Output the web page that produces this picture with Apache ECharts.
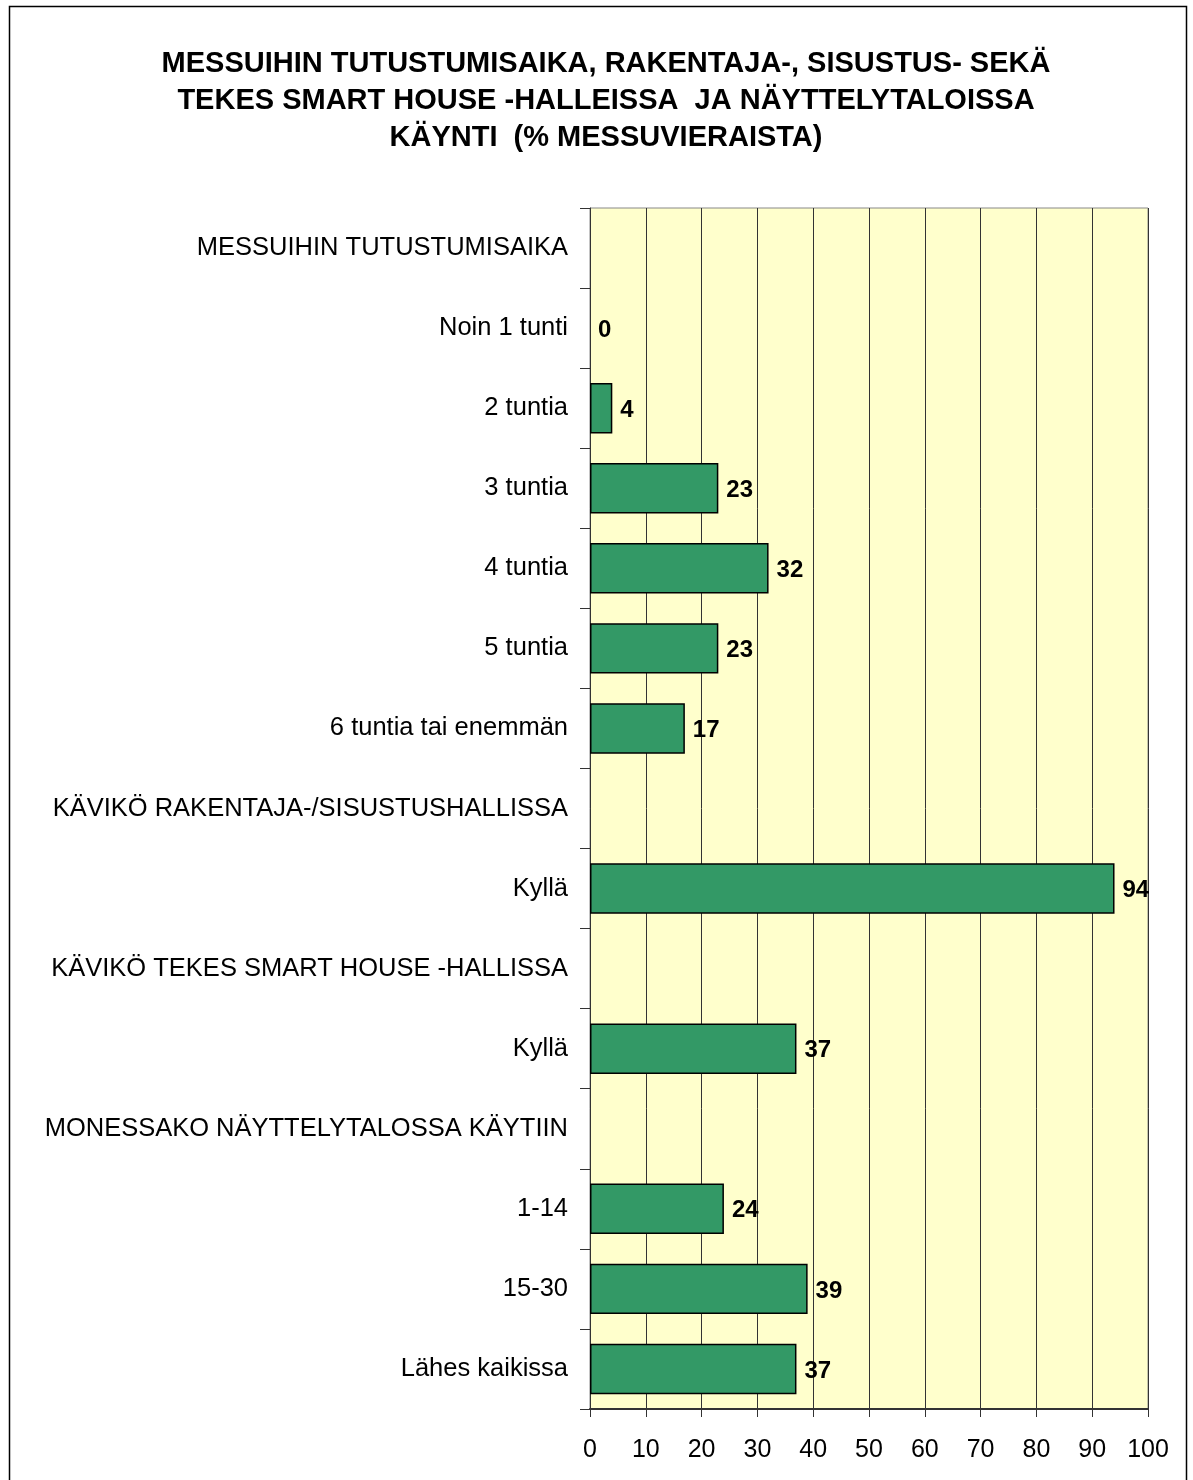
<!DOCTYPE html>
<html><head><meta charset="utf-8">
<script src="https://cdn.jsdelivr.net/npm/echarts@6/dist/echarts.min.js"></script>
<style>html,body{margin:0;padding:0;background:#fff}#c{width:1193px;height:1480px}</style>
</head><body><div id="c"></div>
<script>
const titleLines = ["MESSUIHIN TUTUSTUMISAIKA, RAKENTAJA-, SISUSTUS- SEKÄ","TEKES SMART HOUSE -HALLEISSA  JA NÄYTTELYTALOISSA","KÄYNTI  (% MESSUVIERAISTA)"];
const categories = ["MESSUIHIN TUTUSTUMISAIKA","Noin 1 tunti","2 tuntia","3 tuntia","4 tuntia","5 tuntia","6 tuntia tai enemmän","KÄVIKÖ RAKENTAJA-/SISUSTUSHALLISSA","Kyllä","KÄVIKÖ TEKES SMART HOUSE -HALLISSA","Kyllä","MONESSAKO NÄYTTELYTALOSSA KÄYTIIN","1-14","15-30","Lähes kaikissa"];
const values = [null,0,4,23,32,23,17,null,94,null,37,null,24,39,37];
const font = "'Liberation Sans', Arial, sans-serif";
const chart = echarts.init(document.getElementById('c'));
chart.setOption({
  animation:false,
  backgroundColor:'#fff',
  graphic:[{type:'rect',shape:{x:9.5,y:6.5,width:1177,height:1490},style:{fill:null,stroke:'#000',lineWidth:1.5},silent:true}],
  title:{text:titleLines.join('\n'),left:601,textAlign:'center',top:40,textStyle:{fontFamily:font,fontSize:29,fontWeight:'bold',color:'#000',lineHeight:37}},
  grid:{left:590,right:45,top:208,bottom:71,containLabel:false,show:true,backgroundColor:'#ffffcc',borderColor:'#888',borderWidth:1},
  xAxis:{type:'value',min:0,max:100,interval:10,
    axisLine:{show:true,lineStyle:{color:'#333',width:2}},
    axisTick:{show:true,length:8,lineStyle:{color:'#333'}},
    axisLabel:{fontFamily:font,fontSize:25,color:'#000',margin:29},
    splitLine:{show:true,lineStyle:{color:'#333',width:1}}},
  yAxis:{type:'category',inverse:true,data:categories,
    axisLine:{show:true,lineStyle:{color:'#333',width:1}},
    axisTick:{show:true,length:10,lineStyle:{color:'#333'}},
    axisLabel:{fontFamily:font,fontSize:25.5,color:'#000',margin:22,padding:[5,0,0,0]}},
  series:[{type:'bar',barWidth:'63%',
    data:values.map(v => v === 0 ? {value:v,itemStyle:{borderWidth:0}} : v),
    itemStyle:{color:'#339966',borderColor:'#000',borderWidth:1.5},
    label:{show:true,position:'right',distance:8,offset:[0,2],fontFamily:font,fontSize:24,fontWeight:'bold',color:'#000'}}]
});
</script></body></html>
